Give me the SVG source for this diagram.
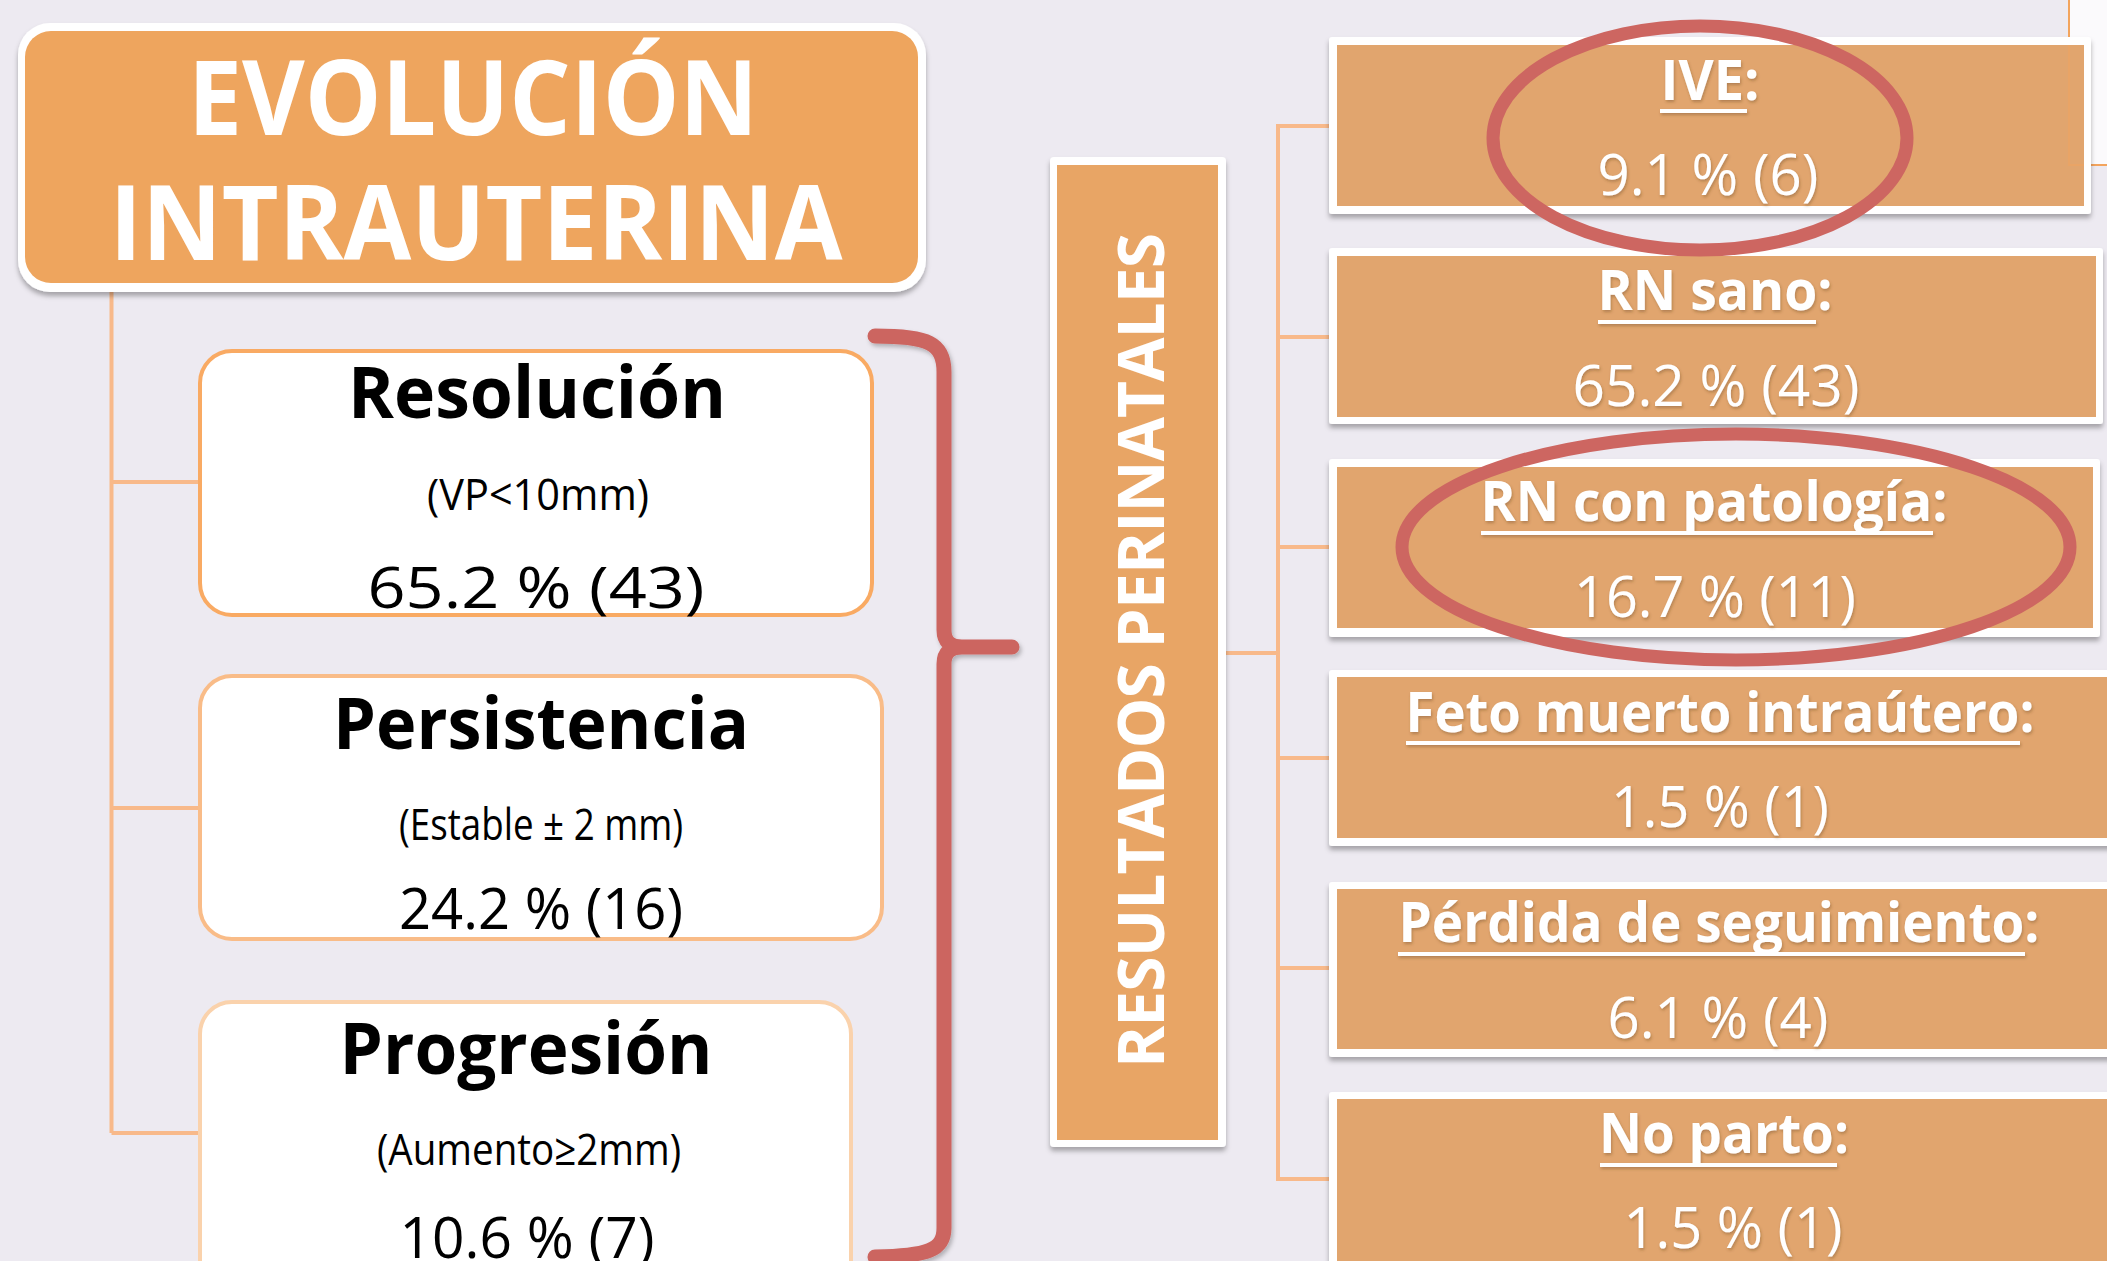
<svg xmlns="http://www.w3.org/2000/svg" width="2107" height="1261" viewBox="0 0 2107 1261">
  <defs>
    <filter id="sh" x="-5%" y="-5%" width="110%" height="115%">
      <feDropShadow dx="0" dy="4" stdDeviation="2.5" flood-color="#000" flood-opacity="0.3"/>
    </filter>
    <filter id="tsh" x="-5%" y="-20%" width="110%" height="140%">
      <feDropShadow dx="1" dy="2" stdDeviation="1.5" flood-color="#5a3a20" flood-opacity="0.35"/>
    </filter>
    <filter id="bsh" x="-20%" y="-5%" width="140%" height="110%">
      <feDropShadow dx="2" dy="3" stdDeviation="2" flood-color="#000" flood-opacity="0.25"/>
    </filter>
  </defs>
  <style>
    .conn { stroke: #F8B98A; stroke-width: 4; fill: none; }
    .lbox { fill: #FFFFFF; stroke-width: 4; }
    .ltitle { font-family: "Open Sans", "Noto Sans", sans-serif; font-weight: 700; font-size: 72px; fill: #000; text-anchor: middle; }
    .lsub { font-family: "Open Sans", "Noto Sans", sans-serif; font-size: 44px; fill: #000; text-anchor: middle; }
    .lval { font-family: "Open Sans", "Noto Sans", sans-serif; font-size: 56px; fill: #000; text-anchor: middle; }
    .rframe { fill: #FFFFFF; }
    .rfill { fill: #E1A56E; }
    .rlab { font-family: "Open Sans", "Noto Sans", sans-serif; font-weight: 700; font-size: 56px; fill: #FFFFFF; text-anchor: middle; }
    .rval { font-family: "Open Sans", "Noto Sans", sans-serif; font-size: 56px; fill: #FFFFFF; text-anchor: middle; }
    .ul { stroke: #FFFFFF; stroke-width: 4; }
    .ring { fill: none; stroke: #CD6661; stroke-width: 13; }
  </style>

  <rect x="0" y="0" width="2107" height="1261" fill="#EDEAF1"/>

  <!-- partial shape at top right -->
  <rect x="2069" y="-5" width="60" height="170" fill="#FBFAFC" stroke="#F3A45D" stroke-width="2"/>

  <g id="connectors">
    <path class="conn" d="M111.5,287 V1133 M111.5,482 H202 M111.5,808 H202 M111.5,1133 H202"/>
    <path class="conn" d="M1278,124 V1181 M1276,126 H1331 M1278,337 H1331 M1278,547 H1331 M1278,758 H1331 M1278,968 H1331 M1276,1179 H1331 M1226,653 H1278"/>
    <g filter="url(#bsh)">
      <path d="M875,336 C928,336 944,343 944,372 V630 Q944,647 962,647 H1012 M1012,647 H962 Q944,647 944,664 V1228 C944,1250 928,1256 875,1257" fill="none" stroke="#CC6560" stroke-width="15" stroke-linecap="round" stroke-linejoin="round"/>
    </g>
  </g>

  <g id="title">
    <rect x="18" y="23" width="908" height="269" rx="32" fill="#FFFFFF" filter="url(#sh)"/>
    <rect x="25" y="31" width="893" height="252" rx="26" fill="#EEA55E"/>
    <text x="473" y="135" font-family="Open Sans, Noto Sans, sans-serif" font-weight="700" font-size="104" fill="#FFFFFF" text-anchor="middle" textLength="570" lengthAdjust="spacingAndGlyphs">EVOLUCIÓN</text>
    <text x="476" y="260" font-family="Open Sans, Noto Sans, sans-serif" font-weight="700" font-size="104" fill="#FFFFFF" text-anchor="middle" textLength="733" lengthAdjust="spacingAndGlyphs">INTRAUTERINA</text>
  </g>

  <g id="resolucion">
    <rect class="lbox" x="200" y="351" width="672" height="264" rx="32" stroke="#F9AA63"/>
    <text class="ltitle" x="537" y="418" textLength="378" lengthAdjust="spacingAndGlyphs">Resolución</text>
    <text class="lsub" x="538" y="510" textLength="222" lengthAdjust="spacingAndGlyphs">(VP&lt;10mm)</text>
    <text class="lval" x="536" y="608" font-size="67" textLength="337" lengthAdjust="spacingAndGlyphs">65.2 % (43)</text>
  </g>

  <g id="persistencia">
    <rect class="lbox" x="200" y="676" width="682" height="263" rx="32" stroke="#F9BC88"/>
    <text class="ltitle" x="541" y="749" textLength="416" lengthAdjust="spacingAndGlyphs">Persistencia</text>
    <text class="lsub" x="541" y="840" textLength="284" lengthAdjust="spacingAndGlyphs">(Estable ± 2 mm)</text>
    <text class="lval" x="541" y="929" textLength="284" lengthAdjust="spacingAndGlyphs">24.2 % (16)</text>
  </g>

  <g id="progresion">
    <rect class="lbox" x="200" y="1002" width="651" height="300" rx="32" stroke="#FAD2AC"/>
    <text class="ltitle" x="526" y="1074" textLength="373" lengthAdjust="spacingAndGlyphs">Progresión</text>
    <text class="lsub" x="529" y="1165" textLength="304" lengthAdjust="spacingAndGlyphs">(Aumento≥2mm)</text>
    <text class="lval" x="527" y="1258" font-size="58" textLength="255" lengthAdjust="spacingAndGlyphs">10.6 % (7)</text>
  </g>

  <g id="resultados">
    <rect x="1050" y="157" width="176" height="990" rx="4" fill="#FFFFFF" filter="url(#sh)"/>
    <rect x="1057" y="165" width="161" height="975" fill="#E8A565"/>
    <text transform="translate(1164,650.5) rotate(-90)" x="0" y="0" font-family="Open Sans, Noto Sans, sans-serif" font-weight="700" font-size="64" fill="#FFFFFF" text-anchor="middle" textLength="835" lengthAdjust="spacing">RESULTADOS PERINATALES</text>
  </g>

  <g id="ive">
    <rect class="rframe" x="1329" y="37" width="762" height="177" rx="3" filter="url(#sh)"/>
    <rect class="rfill" x="1337" y="45" width="747" height="161"/>
    <g filter="url(#tsh)">
      <text class="rlab" x="1710" y="100" textLength="99" lengthAdjust="spacingAndGlyphs">IVE:</text>
      <line class="ul" x1="1660" y1="111" x2="1747" y2="111"/>
      <text class="rval" x="1708" y="195" textLength="221" lengthAdjust="spacingAndGlyphs">9.1 % (6)</text>
    </g>
    <path d="M2069,45 V165 H2084" fill="none" stroke="#F3A45D" stroke-width="2" opacity="0.45"/>
  </g>

  <g id="rn-sano">
    <rect class="rframe" x="1329" y="248" width="774" height="176" rx="3" filter="url(#sh)"/>
    <rect class="rfill" x="1337" y="256" width="759" height="161"/>
    <g filter="url(#tsh)">
      <text class="rlab" x="1715" y="310" textLength="235" lengthAdjust="spacingAndGlyphs">RN sano:</text>
      <line class="ul" x1="1598" y1="322" x2="1816" y2="322"/>
      <text class="rval" x="1716" y="406" textLength="287" lengthAdjust="spacingAndGlyphs">65.2 % (43)</text>
    </g>
  </g>

  <g id="rn-patologia">
    <rect class="rframe" x="1329" y="459" width="771" height="178" rx="3" filter="url(#sh)"/>
    <rect class="rfill" x="1337" y="467" width="756" height="161"/>
    <g filter="url(#tsh)">
      <text class="rlab" x="1714" y="521" textLength="467" lengthAdjust="spacingAndGlyphs">RN con patología:</text>
      <line class="ul" x1="1481" y1="533" x2="1933" y2="533"/>
      <text class="rval" x="1715" y="617" textLength="282" lengthAdjust="spacingAndGlyphs">16.7 % (11)</text>
    </g>
  </g>

  <g id="feto-muerto">
    <rect class="rframe" x="1329" y="670" width="800" height="176" rx="3" filter="url(#sh)"/>
    <rect class="rfill" x="1337" y="677" width="790" height="161"/>
    <g filter="url(#tsh)">
      <text class="rlab" x="1720" y="732" textLength="629" lengthAdjust="spacingAndGlyphs">Feto muerto intraútero:</text>
      <line class="ul" x1="1406" y1="743" x2="2020" y2="743"/>
      <text class="rval" x="1720" y="827" textLength="218" lengthAdjust="spacingAndGlyphs">1.5 % (1)</text>
    </g>
  </g>

  <g id="perdida">
    <rect class="rframe" x="1329" y="882" width="800" height="175" rx="3" filter="url(#sh)"/>
    <rect class="rfill" x="1337" y="889" width="790" height="160"/>
    <g filter="url(#tsh)">
      <text class="rlab" x="1719" y="942" textLength="641" lengthAdjust="spacingAndGlyphs">Pérdida de seguimiento:</text>
      <line class="ul" x1="1398" y1="954" x2="2025" y2="954"/>
      <text class="rval" x="1718" y="1038" textLength="221" lengthAdjust="spacingAndGlyphs">6.1 % (4)</text>
    </g>
  </g>

  <g id="no-parto">
    <rect class="rframe" x="1329" y="1092" width="800" height="200" rx="3" filter="url(#sh)"/>
    <rect class="rfill" x="1337" y="1099" width="790" height="190"/>
    <g filter="url(#tsh)">
      <text class="rlab" x="1724" y="1153" textLength="250" lengthAdjust="spacingAndGlyphs">No parto:</text>
      <line class="ul" x1="1600" y1="1165" x2="1837" y2="1165"/>
      <text class="rval" x="1733" y="1248" textLength="219" lengthAdjust="spacingAndGlyphs">1.5 % (1)</text>
    </g>
  </g>

  <g id="highlights">
    <ellipse class="ring" cx="1700" cy="138" rx="207" ry="112"/>
    <ellipse class="ring" cx="1736" cy="547" rx="334" ry="113"/>
  </g>
</svg>
